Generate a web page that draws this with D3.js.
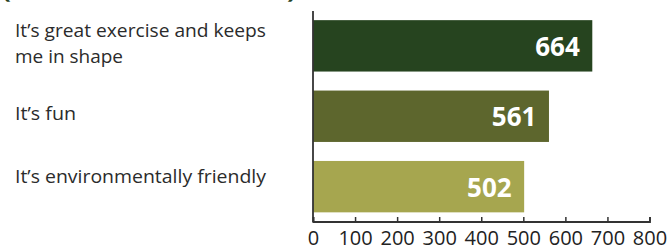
<!DOCTYPE html>
<html><head><meta charset="utf-8">
<script src="https://cdn.jsdelivr.net/npm/d3@7"></script>
<style>body{margin:0;background:#fff}svg{display:block}</style>
</head><body>
<svg id="c" width="669" height="245"></svg>
<script>
const categories = ["It’s great exercise and keeps me in shape", "It’s fun", "It’s environmentally friendly"];
const labelLines = [["It’s great exercise and keeps", "me in shape"], ["It’s fun"], ["It’s environmentally friendly"]];
const values = [664, 561, 502];
const colors = ["#26441f", "#5d662d", "#a6a64f"];
const ticks = [0, 100, 200, 300, 400, 500, 600, 700, 800];
const title = "(Number of mentions)";

const svg = d3.select("#c");
const x = d3.scaleLinear().domain([0, 800]).range([313, 649.5]);
const y = d3.scaleBand().domain(categories).range([11, 221.5]).paddingInner(0.27).paddingOuter(0.13);

// clipped title remnant
svg.append("text").attr("x", 2).attr("y", -2.5)
  .attr("textLength", 294).attr("lengthAdjust", "spacingAndGlyphs")
  .style("font-family", "Open Sans").style("font-weight", "bold").style("font-size", "22px")
  .attr("fill", "#26441f").text(title);

svg.selectAll("rect.bar").data(values).join("rect").attr("class", "bar")
  .attr("x", x(0)).attr("y", (d, i) => y(categories[i]))
  .attr("width", d => x(d) - x(0)).attr("height", y.bandwidth())
  .attr("fill", (d, i) => colors[i]);

svg.selectAll("text.val").data(values).join("text").attr("class", "val")
  .attr("x", d => x(d) - 12.5).attr("y", (d, i) => y(categories[i]) + y.bandwidth() / 2 + 10)
  .attr("text-anchor", "end").attr("fill", "#fff")
  .style("font-family", "Open Sans").style("font-weight", "bold").style("font-size", "26px")
  .text(d => d);

// category labels
const lineWidths = [[251, 108], [61], [251]];
const baselines = [[36.7, 63.3], [120], [183.3]];
labelLines.forEach((lines, i) => {
  lines.forEach((ln, j) => {
    svg.append("text").attr("x", 15).attr("y", baselines[i][j])
      .attr("textLength", lineWidths[i][j]).attr("lengthAdjust", "spacingAndGlyphs")
      .attr("fill", "#2b2b2b")
      .style("font-family", "Open Sans").style("font-size", "18px").text(ln);
  });
});

// x axis
const gx = svg.append("g").attr("transform", "translate(0,221.5)")
  .call(d3.axisBottom(x).tickValues(ticks).tickSize(-4.5).tickSizeOuter(-4.5).tickPadding(11));
gx.select(".domain").attr("stroke", "#333").attr("stroke-width", 1.8);
gx.selectAll(".tick line").attr("stroke", "#333").attr("stroke-width", 1.5);
gx.selectAll(".tick text").attr("fill", "#222").style("font-family", "Open Sans").style("font-size", "20px")
  .attr("dy", null).attr("y", 23.3);

// y axis line
svg.append("line").attr("x1", x(0)).attr("x2", x(0)).attr("y1", 11).attr("y2", 222.3)
  .attr("stroke", "#333").attr("stroke-width", 1.8);
</script>
</body></html>
